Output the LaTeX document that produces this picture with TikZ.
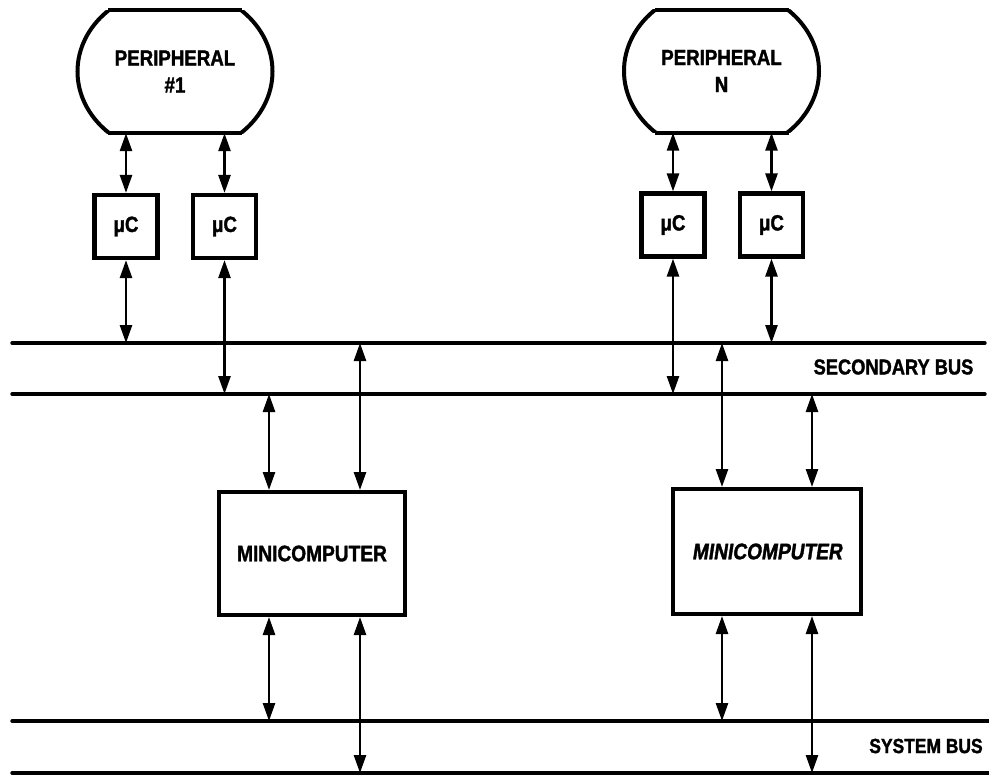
\documentclass[tikz,border=0pt]{standalone}
\usepackage{fontspec}
\setmainfont{Liberation Sans}[FakeStretch=0.85,FakeBold=1.5]
\newfontfamily\slantsans{Liberation Sans}[FakeStretch=0.85,FakeSlant=0.15,FakeBold=1.5]
\usetikzlibrary{arrows.meta,calc}

\tikzset{
  lbl/.style={font=\bfseries\fontsize{22}{27}\selectfont, align=center, inner sep=0pt},
  periph/.style={lbl, rectangle, minimum width=195pt, minimum height=123pt},
  ucbox/.style={draw, line width=4.2pt, minimum width=63pt, minimum height=63pt,
    font=\bfseries\fontsize{22}{24}\selectfont, inner sep=0pt},
  minibox/.style={draw, line width=4pt, minimum width=186pt, minimum height=123pt,
    font=\bfseries\fontsize{22.5}{26}\selectfont, inner sep=0pt},
  outline/.style={line width=4pt},
  bus/.style={line width=3.4pt, line cap=round},
  buslabel/.style={font=\bfseries\fontsize{20.5}{24}\selectfont, inner sep=0pt},
  link/.style={line width=2.6pt, {Triangle[length=18pt,width=12pt]}-{Triangle[length=18pt,width=12pt]}},
}

% Peripheral outline: an ellipse cut flat at top and bottom
\newcommand{\periphoutline}[1]{%
  \begin{scope}
    \clip ($(#1.center)+(-115,-61.5)$) rectangle ($(#1.center)+(115,61.5)$);
    \draw[outline] (#1.center) ellipse [x radius=97.5pt, y radius=83.5pt];
  \end{scope}
  \draw[outline] ($(#1.center)+(-67,-61.5)$) -- ($(#1.center)+(67,-61.5)$);
  \draw[outline] ($(#1.center)+(-67,61.5)$) -- ($(#1.center)+(67,61.5)$);
}

\begin{document}
\begin{tikzpicture}[x=1pt,y=-1pt]
\useasboundingbox (0,0) rectangle (989,777);

% peripherals
\node[periph] (p1) at (175,71.5) {PERIPHERAL\\\#1};
\node[periph] (pN) at (721.5,71) {PERIPHERAL\\N};
\periphoutline{p1}
\periphoutline{pN}

% microcontrollers
\node[ucbox] (u1) at (126,226.5) {μC};
\node[ucbox] (u2) at (224.5,226.5) {μC};
\node[ucbox] (u3) at (673,225) {μC};
\node[ucbox] (u4) at (771.5,225) {μC};

% minicomputers
\node[minibox] (m1) at (312,553.5) {MINICOMPUTER};
\node[minibox, minimum width=188pt, minimum height=125pt,
      font=\slantsans\bfseries\fontsize{22.5}{26}\selectfont] (m2) at (767,551.5) {MINICOMPUTER};

% bus lines
\coordinate (sa0) at (12,343);  \coordinate (sa1) at (985,343);
\coordinate (sb0) at (12,394);  \coordinate (sb1) at (985,394);
\coordinate (ya0) at (12,721);  \coordinate (ya1) at (989,721);
\coordinate (yb0) at (12,773);  \coordinate (yb1) at (989,773);
\draw[bus] (sa0) -- (sa1);
\draw[bus] (sb0) -- (sb1);
\draw[bus] (ya0) -- (ya1);
\draw[bus] (yb0) -- (yb1);
\node[buslabel, font=\bfseries\fontsize{21.5}{24}\selectfont] (secbus) at (893.5,367) {SECONDARY BUS};
\node[buslabel] (sysbus) at (926,746) {SYSTEM BUS};

% columns for the minicomputer links
\coordinate (k1) at (269,0);
\coordinate (k2) at (360,0);
\coordinate (k3) at (722,0);
\coordinate (k4) at (812,0);

% peripheral <-> microcontroller
\draw[link] (u1.north |- p1.south) -- (u1.north);
\draw[link] (u2.north |- p1.south) -- (u2.north);
\draw[link] (u3.north |- pN.south) -- (u3.north);
\draw[link] (u4.north |- pN.south) -- (u4.north);

% microcontroller <-> secondary bus
\draw[link] (u1.south) -- (u1.south |- sa0);
\draw[link] (u2.south) -- (u2.south |- sb0);
\draw[link] (u3.south) -- (u3.south |- sb0);
\draw[link] (u4.south) -- (u4.south |- sa0);

% minicomputer <-> secondary bus
\draw[link] (k1 |- m1.north) -- (k1 |- sb0);
\draw[link] (k2 |- m1.north) -- (k2 |- sa0);
\draw[link] (k3 |- m2.north) -- (k3 |- sa0);
\draw[link] (k4 |- m2.north) -- (k4 |- sb0);

% minicomputer <-> system bus
\draw[link] (k1 |- m1.south) -- (k1 |- ya0);
\draw[link] (k2 |- m1.south) -- (k2 |- yb0);
\draw[link] (k3 |- m2.south) -- (k3 |- ya0);
\draw[link] (k4 |- m2.south) -- (k4 |- yb0);
\end{tikzpicture}
\end{document}
